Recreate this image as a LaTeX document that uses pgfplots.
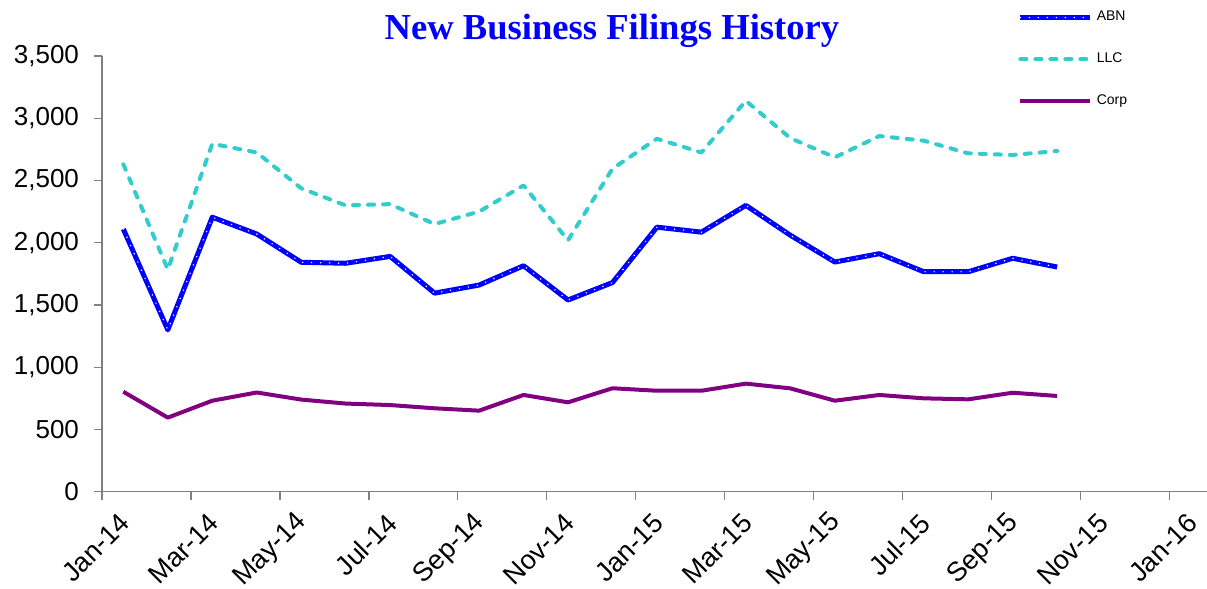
\documentclass[border=0pt]{standalone}
\usepackage{fontspec}
\setmainfont{Liberation Sans}
\newfontfamily\titlefont{Liberation Serif}
\usepackage{pgfplots}
\pgfplotsset{compat=1.18}
\definecolor{abnblue}{HTML}{0000FF}
\definecolor{llccyan}{HTML}{33CCCC}
\definecolor{corppurple}{HTML}{800080}
\definecolor{axisgray}{HTML}{808080}
\begin{document}
\begin{tikzpicture}
\begin{axis}[
  scale only axis,
  width=552.5pt, height=217.85pt,
  xmin=0, xmax=24.85, ymin=0, ymax=3500,
  axis x line=bottom, axis y line=left,
  axis line style={draw=axisgray, line width=0.7pt, -},
  major tick style={draw=axisgray, line width=0.7pt},
  tick align=outside, major tick length=4pt,
  xtick={0,2,...,24},
  xticklabels={Jan-14,Mar-14,May-14,Jul-14,Sep-14,Nov-14,Jan-15,Mar-15,May-15,Jul-15,Sep-15,Nov-15,Jan-16},
  ytick={0,500,...,3500},
  /pgf/number format/assume math mode=true,
  /pgf/number format/1000 sep={,},
  yticklabel style={font=\fontsize{13}{15}\selectfont, xshift=-4pt},
  xticklabel style={font=\fontsize{13.5}{15}\selectfont, xshift=14pt, yshift=-7pt, rotate=45, anchor=east},
  clip=false,
  legend style={at={(rel axis cs:0.823,1.122)}, anchor=north west, draw=none, fill=none,
    font=\fontsize{7}{8}\selectfont, row sep=10.5pt, cells={anchor=west}},
  legend image code/.code={\draw[#1] (0pt,0pt) -- (35pt,0pt);},
]
\addplot[abnblue, line width=2.5pt, line join=round,
  postaction={draw=white, line width=0.8pt, dash pattern=on 0pt off 4.5pt, line cap=round}]
coordinates {
(0.48,2110)(1.48,1300)(2.48,2205)(3.48,2070)(4.48,1843)(5.48,1835)(6.48,1890)(7.48,1595)(8.48,1660)(9.48,1815)(10.48,1540)
(11.48,1680)(12.48,2125)(13.48,2085)(14.48,2300)(15.48,2060)(16.48,1845)(17.48,1912)(18.48,1767)(19.48,1767)(20.48,1875)(21.48,1805)};
\addlegendentry{ABN}
\addplot[llccyan, line width=2pt, line cap=round, line join=round, dash pattern=on 3pt off 4.5pt]
coordinates {
(0.48,2630)(1.48,1785)(2.48,2795)(3.48,2725)(4.48,2437)(5.48,2300)(6.48,2310)(7.48,2150)(8.48,2250)(9.48,2460)(10.48,2020)
(11.48,2595)(12.48,2835)(13.48,2725)(14.48,3140)(15.48,2840)(16.48,2686)(17.48,2857)(18.48,2820)(19.48,2718)(20.48,2705)(21.48,2737)};
\addlegendentry{LLC}
\addplot[corppurple, line width=2pt, line join=round]
coordinates {
(0.48,803)(1.48,595)(2.48,731)(3.48,797)(4.48,740)(5.48,708)(6.48,696)(7.48,670)(8.48,651)(9.48,777)(10.48,718)
(11.48,831)(12.48,811)(13.48,811)(14.48,868)(15.48,830)(16.48,731)(17.48,777)(18.48,750)(19.48,742)(20.48,795)(21.48,769)};
\addlegendentry{Corp}
\node[anchor=base, font=\titlefont\bfseries\fontsize{18.3}{22}\selectfont, text=abnblue]
  at (rel axis cs:0.4615,1.038) {New Business Filings History};
\end{axis}
\pgfresetboundingbox
\useasboundingbox (-51pt,-48.65pt) rectangle (552.5pt,245.85pt);
\end{tikzpicture}
\end{document}
